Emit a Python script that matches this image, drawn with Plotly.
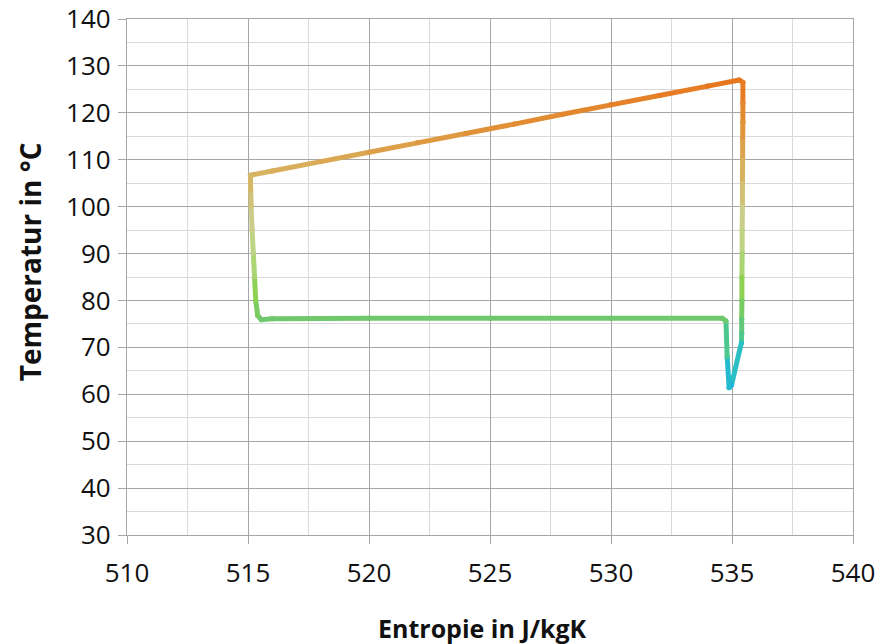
import numpy as np
import plotly.graph_objects as go

# Cycle path in the T-s diagram (entropy in J/kgK, temperature in °C)
entropie = [515.10, 516.0, 518.0, 520.0, 522.0, 524.0, 526.0, 528.0, 530.0, 532.0, 534.0,
            535.30, 535.45, 535.45, 535.45, 535.44, 535.44, 535.43, 535.43, 535.42, 535.42,
            535.41, 535.41, 535.40, 535.40, 535.39,
            534.98, 534.88, 534.80, 534.75, 534.60,
            530.0, 525.0, 520.0, 516.0, 515.55,
            515.40, 515.32, 515.27, 515.22, 515.17, 515.13, 515.11, 515.10]
temperatur = [106.7, 107.6, 109.6, 111.6, 113.6, 115.6, 117.6, 119.7, 121.7, 123.7, 125.7,
              127.0, 126.5, 122.0, 118.0, 114.0, 110.0, 105.0, 100.0, 95.0, 90.0,
              85.0, 80.0, 76.0, 73.0, 71.0,
              62.0, 61.4, 68.0, 75.6, 76.2,
              76.2, 76.2, 76.2, 76.1, 75.9,
              76.8, 80.0, 85.0, 90.0, 95.0, 100.0, 103.5, 106.7]

x_ticks = [510, 515, 520, 525, 530, 535, 540]
y_ticks = [30, 40, 50, 60, 70, 80, 90, 100, 110, 120, 130, 140]

# Temperature-dependent line colour (blue -> green -> tan -> orange)
stops_t = [61, 66, 71, 76, 82, 90, 98, 106, 110, 116, 127]
stops_rgb = np.array([
    (24, 176, 232), (40, 190, 200), (70, 200, 150), (112, 200, 110), (140, 210, 80),
    (185, 215, 130), (205, 205, 140), (214, 182, 100), (218, 170, 85),
    (225, 148, 58), (232, 118, 30),
], dtype=float)


def colour_at(t):
    r, g, b = (np.interp(t, stops_t, stops_rgb[:, k]) for k in range(3))
    return f"rgb({int(r)},{int(g)},{int(b)})"


fig = go.Figure()
for i in range(len(entropie) - 1):
    c = colour_at(0.5 * (temperatur[i] + temperatur[i + 1]))
    fig.add_trace(go.Scatter(
        x=entropie[i:i + 2], y=temperatur[i:i + 2],
        mode="lines+markers",
        line=dict(color=c, width=5),
        marker=dict(color=c, size=5),
        hoverinfo="skip", showlegend=False,
    ))

tick_font = dict(family="Open Sans", size=26, color="#111111")
major = "#a6a6a6"
minor = "#d9d9d9"

fig.update_xaxes(
    range=[510, 540], tickvals=x_ticks, ticktext=[str(v) for v in x_ticks],
    showgrid=True, gridcolor=major, gridwidth=1.3,
    minor=dict(dtick=2.5, tick0=510, showgrid=True, gridcolor=minor, gridwidth=1),
    showline=True, linecolor=major, linewidth=1.3, mirror=True,
    ticks="outside", ticklen=8, tickcolor=major, tickwidth=1.3,
    tickfont=tick_font, ticklabelstandoff=7, zeroline=False, fixedrange=True,
    automargin=False,
)
fig.update_yaxes(
    range=[30, 140], tickvals=y_ticks, ticktext=[str(v) for v in y_ticks],
    showgrid=True, gridcolor=major, gridwidth=1.3,
    minor=dict(dtick=5, tick0=30, showgrid=True, gridcolor=minor, gridwidth=1),
    showline=True, linecolor=major, linewidth=1.3, mirror=True,
    ticks="outside", ticklen=8, tickcolor=major, tickwidth=1.3,
    tickfont=tick_font, ticklabelstandoff=2, zeroline=False, fixedrange=True,
    automargin=False,
)

fig.add_annotation(text="<b>Entropie in J/kgK</b>", xref="paper", yref="paper",
                   x=0.49, y=-0.18, yanchor="middle", xanchor="center",
                   showarrow=False, font=dict(family="Open Sans", size=25, color="#111111"))
fig.add_annotation(text="<b>Temperatur in °C</b>", xref="paper", yref="paper",
                   x=-0.134, y=0.53, xanchor="center", yanchor="middle",
                   textangle=-90, showarrow=False,
                   font=dict(family="Open Sans", size=28, color="#111111"))

fig.update_layout(
    width=880, height=644,
    margin=dict(l=127, r=27, t=19, b=109),
    plot_bgcolor="white", paper_bgcolor="white",
)

fig.write_html("out.html")
